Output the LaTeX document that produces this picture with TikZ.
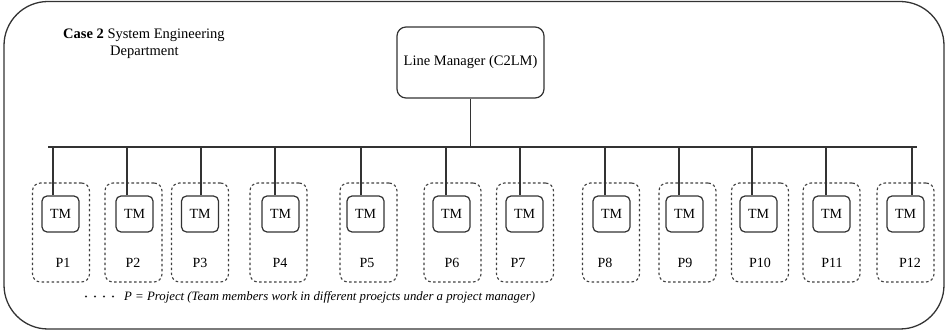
\documentclass[tikz,border=0pt]{standalone}
\usepackage{fontspec}
\setmainfont{Liberation Serif}
\begin{document}
\begin{tikzpicture}[x=1pt,y=-1pt,
  frame/.style={draw=black!80, line width=1.3pt, rounded corners=44pt},
  lmbox/.style={draw=black!80, line width=1.2pt, rounded corners=9pt, minimum width=147pt, minimum height=71pt, font=\fontsize{14.5}{16}\selectfont},
  tmbox/.style={draw=black!80, line width=1.2pt, rounded corners=5pt, minimum width=37pt, minimum height=36pt, inner sep=0pt, font=\fontsize{14}{16}\selectfont},
  pbox/.style={draw=black!75, line width=1.1pt, dash pattern=on 2.6pt off 2.4pt, rounded corners=8pt, minimum width=57pt, minimum height=99pt, inner sep=0pt},
  plabel/.style={inner sep=0pt, font=\fontsize{14}{16}\selectfont},
  conn/.style={draw=black!80, line width=1.3pt},
  txt/.style={inner sep=0pt, font=\fontsize{14.5}{16}\selectfont},
  dotmark/.style={fill=black!85}]
\useasboundingbox (0,0) rectangle (946,331);
\draw[frame] (4,1.5) rectangle (944,329);
\node[txt, anchor=west] (title) at (63,35) {\textbf{Case 2} System Engineering};
\node[txt, anchor=west] (dept) at (110,52) {Department};
\node[lmbox] (lm) at (470.5,62.5) {Line Manager (C2LM)};
\coordinate (busL) at (48,147);
\coordinate (busR) at (917,147);
\coordinate (busM) at (470.5,147);
\draw[conn] (busL) -- (busR);
\draw[conn] (lm.south) -- (busM);
\foreach \i/\p/\t/\l/\d in {1/61/60.5/63/53, 2/133.5/134.5/133/127, 3/200/200/200/201, 4/278.5/280.5/280/275, 5/368.5/365.5/367/361, 6/452.5/451.5/452/446, 7/525/524.5/518/520, 8/611/611.5/605/605, 9/687.5/684.5/685/679, 10/760/758.5/760/752, 11/831.5/831.5/832/826, 12/905.5/905.5/910/912}{
  \node[pbox] (p\i) at (\p,232.5) {};
  \node[tmbox] (tm\i) at (\t,214) {TM};
  \node[plabel] (pl\i) at (\l,263) {P\i};
  \coordinate (b\i) at (\d,147);
  \draw[conn] (b\i) -- (b\i |- tm\i.north);
}
\foreach \x in {86,95,104,113}{\fill[dotmark] (\x,296.5) circle (1.1pt);}
\node[txt, anchor=west, font=\fontsize{12.8}{14}\selectfont\itshape] (legend) at (124,297) {P = Project (Team members work in different proejcts under a project manager)};
\end{tikzpicture}
\end{document}
